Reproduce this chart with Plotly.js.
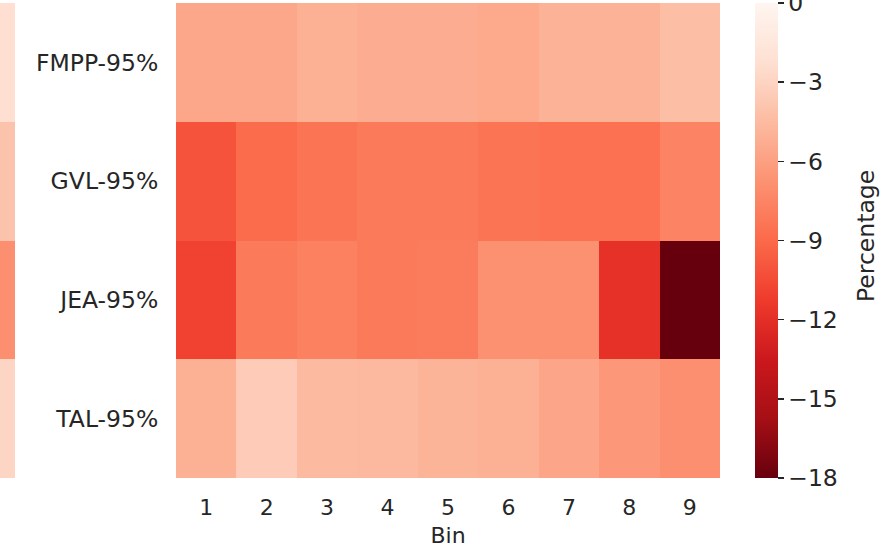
<!DOCTYPE html>
<html>
<head>
<meta charset="utf-8">
<script src="https://cdn.plot.ly/plotly-3.0.1.min.js"></script>
<style>html,body{margin:0;padding:0;background:#fff}#chart{width:885px;height:548px}</style>
</head>
<body>
<div id="chart"></div>
<script>
// Data
const bins = [1, 2, 3, 4, 5, 6, 7, 8, 9];
const regions = ["FMPP-95%", "GVL-95%", "JEA-95%", "TAL-95%"];
const fmpp = [-5.6, -5.6, -5.1, -5.3, -5.3, -5.5, -5.0, -5.0, -4.3];
const gvl  = [-10.1, -8.9, -8.4, -8.1, -8.1, -8.4, -8.6, -8.6, -7.6];
const jea  = [-10.9, -8.1, -7.7, -8.1, -8.0, -6.8, -6.8, -11.9, -18.0];
const tal  = [-5.1, -3.5, -4.5, -4.6, -4.9, -5.1, -5.7, -6.4, -6.9];
// Right-most column of a neighbouring (cropped) heatmap at the left edge
const leftStrip = [-2.3, -4.0, -6.9, -2.9];
const cbTicks = [0, -3, -6, -9, -12, -15, -18];
const cbTickText = ["0", "\u22123", "\u22126", "\u22129", "\u221212", "\u221215", "\u221218"];

const reds = [
  [0.0, "#67000d"], [0.125, "#a50f15"], [0.25, "#cb181d"], [0.375, "#ef3b2c"],
  [0.5, "#fb6a4a"], [0.625, "#fc9272"], [0.75, "#fcbba1"], [0.875, "#fee0d2"], [1.0, "#fff5f0"]
];
const font = {family: "DejaVu Sans, sans-serif", size: 22, color: "#262626"};
const bigFont = {family: "DejaVu Sans, sans-serif", size: 23.5, color: "#262626"};
const W = 720; // plot area width in px (margin l = 0)

const main = {
  type: "heatmap",
  x: bins, y: regions,
  z: [fmpp, gvl, jea, tal],
  zmin: -18, zmax: 0,
  colorscale: reds,
  xaxis: "x", yaxis: "y",
  hoverinfo: "skip",
  colorbar: {
    x: 755 / W, xanchor: "left", xpad: 0,
    y: 0.5, yanchor: "middle", len: 1, ypad: 0,
    thickness: 23, outlinewidth: 0,
    tickvals: cbTicks, ticktext: cbTickText,
    ticks: "outside", ticklen: 6, tickwidth: 1.5, tickcolor: "#262626",
    ticklabeloverflow: "allow",
    tickfont: bigFont
  }
};
const strip = {
  type: "heatmap",
  x: [0], y: regions,
  z: leftStrip.map(v => [v]),
  zmin: -18, zmax: 0,
  colorscale: reds, showscale: false,
  xaxis: "x2", yaxis: "y2",
  hoverinfo: "skip"
};

const layout = {
  width: 885, height: 548,
  margin: {l: 0, r: 165, t: 3, b: 70},
  paper_bgcolor: "#fff", plot_bgcolor: "#fff",
  font: font,
  xaxis: {
    domain: [176 / W, 1], range: [0.5, 9.5],
    tickvals: bins, ticktext: bins.map(String),
    ticks: "outside", ticklen: 10, tickcolor: "rgba(0,0,0,0)",
    showgrid: false, zeroline: false, showline: false,
    tickfont: font,
    title: {text: "Bin", font: font, standoff: 9}
  },
  yaxis: {
    anchor: "x", autorange: "reversed",
    ticks: "outside", ticklen: 12, tickcolor: "rgba(0,0,0,0)",
    showgrid: false, zeroline: false, showline: false,
    tickfont: bigFont
  },
  xaxis2: {
    domain: [0, 15 / W], range: [-0.5, 0.5],
    showticklabels: false, ticks: "", showgrid: false, zeroline: false, showline: false
  },
  yaxis2: {
    anchor: "x2", autorange: "reversed",
    showticklabels: false, ticks: "", showgrid: false, zeroline: false, showline: false
  },
  annotations: [{
    text: "Percentage", textangle: -90,
    xref: "paper", yref: "paper", x: 866 / W, y: (478 - 236) / 475,
    xanchor: "center", yanchor: "middle", showarrow: false,
    font: bigFont
  }]
};

Plotly.newPlot("chart", [strip, main], layout, {displayModeBar: false, staticPlot: true});
</script>
</body>
</html>
